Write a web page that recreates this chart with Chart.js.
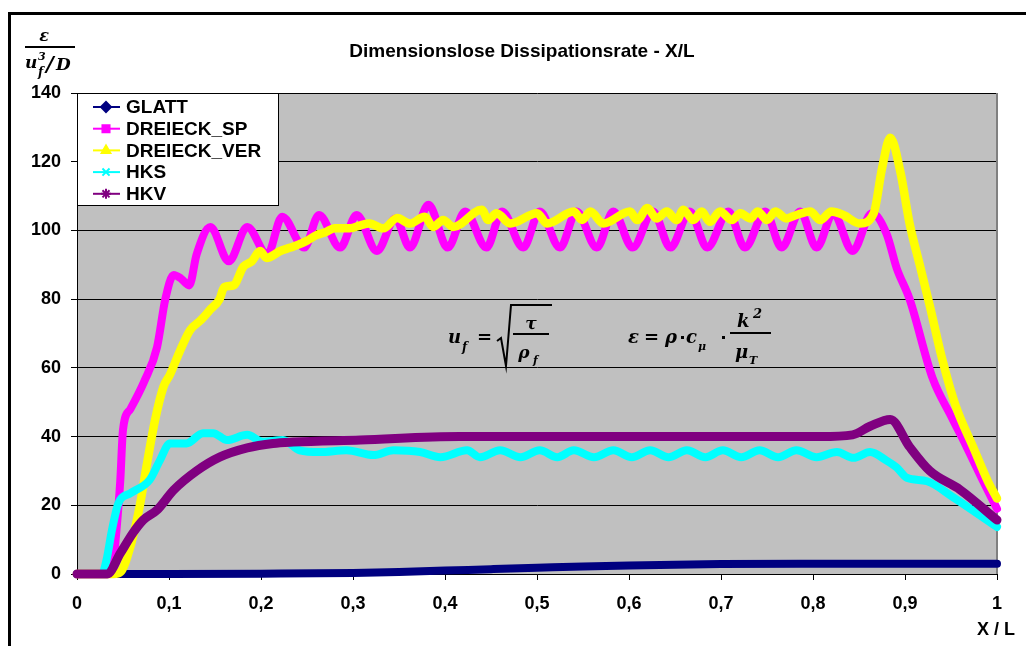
<!DOCTYPE html>
<html>
<head>
<meta charset="utf-8">
<script src="https://cdn.jsdelivr.net/npm/chart.js@4.4.0/dist/chart.umd.min.js"></script>
<style>
  body { margin: 0; background: #fff; }
  #wrap { position: relative; width: 1026px; height: 646px; }
</style>
</head>
<body>
<div id="wrap"><canvas id="dissChart" width="1026" height="646"></canvas></div>
<script>
// series (x = X/L, y = dimensionless dissipation)
var seriesNames = ['GLATT', 'DREIECK_SP', 'DREIECK_VER', 'HKS', 'HKV'];
var seriesColors = ['#000080', '#FF00FF', '#FFFF00', '#00FFFF', '#800080'];
var seriesMarkers = ['rectRot', 'rect', 'triangle', 'crossRot', 'star'];

var glattX = [0, 0.05, 0.1, 0.2, 0.3, 0.35, 0.4, 0.45, 0.5, 0.55, 0.6, 0.65, 0.7, 0.8, 0.9, 1.0];
var glattY = [0, 0, 0, 0.1, 0.3, 0.6, 1.0, 1.4, 1.8, 2.2, 2.5, 2.7, 2.9, 3.0, 3.0, 3.0];

var spX = [0, 0.03, 0.036, 0.040, 0.043, 0.047, 0.050, 0.058, 0.073, 0.087, 0.096, 0.105, 0.113, 0.122, 0.130,
  0.145, 0.165, 0.185, 0.207, 0.223, 0.247, 0.263, 0.286, 0.304, 0.326, 0.346, 0.362, 0.382, 0.403, 0.422,
  0.445, 0.462, 0.485, 0.503, 0.525, 0.543, 0.565, 0.583, 0.604, 0.626, 0.645, 0.666, 0.685, 0.708, 0.726,
  0.748, 0.766, 0.786, 0.804, 0.822, 0.843, 0.864, 0.880, 0.891, 0.905, 0.930, 0.950, 0.967, 0.985, 1.0];
var spY = [0, 0, 0.5, 5, 13, 27, 42, 48, 56, 66, 80, 87, 86, 84, 93,
  101, 91, 101, 93, 104, 95, 104.5, 95, 104.5, 94, 103.5, 95, 107.5, 95, 105.5,
  95, 105.5, 95, 105.5, 95, 105.5, 95, 105.5, 95, 105.5, 95, 105.5, 95, 105.5, 95,
  105.5, 95, 105.5, 95, 105, 94, 105, 99, 89, 80, 57, 46, 37, 27, 19];

var verX = [0, 0.040, 0.047, 0.058, 0.068, 0.076, 0.085, 0.094, 0.101, 0.112, 0.123, 0.135, 0.145, 0.155, 0.160,
  0.170, 0.181, 0.190, 0.199, 0.206, 0.221, 0.232, 0.242, 0.250, 0.260, 0.270, 0.280, 0.297, 0.308, 0.318,
  0.333, 0.348, 0.362, 0.378, 0.387, 0.398, 0.409, 0.440, 0.447, 0.456, 0.471, 0.500, 0.511, 0.540, 0.549,
  0.558, 0.572, 0.601, 0.609, 0.620, 0.630, 0.641, 0.652, 0.659, 0.670, 0.679, 0.688, 0.699, 0.712, 0.721,
  0.732, 0.740, 0.750, 0.759, 0.771, 0.782, 0.797, 0.808, 0.820, 0.833, 0.851, 0.866, 0.875, 0.884, 0.895,
  0.905, 0.916, 0.927, 0.940, 0.955, 0.974, 0.990, 1.0];
var verY = [0, 0, 0.5, 8, 19.5, 32, 45, 54.5, 58, 65, 71, 74, 77, 80, 83.5,
  84, 89.5, 91, 94, 92, 94, 95, 96, 97, 98.6, 99.5, 100.6, 100.6, 101.5, 102,
  100.6, 103.6, 102, 104, 101, 103, 101, 106, 103, 105, 102, 105, 102, 105.5, 103,
  105.5, 102, 105.5, 103, 106.5, 103.5, 105.5, 103, 106, 103, 105.5, 102.5, 105.5, 103, 105,
  103.5, 105.5, 103, 105.5, 103.5, 104.5, 105.5, 103, 105.5, 104.5, 102, 105, 118, 127, 117,
  102, 90, 78, 63, 49, 37, 27, 22];

var hksX = [0, 0.027, 0.032, 0.038, 0.045, 0.058, 0.079, 0.090, 0.101, 0.119, 0.137, 0.148, 0.163, 0.185, 0.202,
  0.224, 0.242, 0.264, 0.293, 0.322, 0.344, 0.373, 0.395, 0.424, 0.438, 0.460, 0.482, 0.503, 0.522, 0.540,
  0.562, 0.583, 0.603, 0.623, 0.643, 0.663, 0.683, 0.702, 0.722, 0.742, 0.762, 0.782, 0.804, 0.826, 0.844,
  0.862, 0.880, 0.891, 0.902, 0.924, 0.952, 1.0];
var hksY = [0, 0, 4, 12.8, 20.6, 23.5, 27.4, 33, 38, 38, 41, 41, 39, 40.5, 38.5,
  39, 36, 35.5, 36, 34.6, 36, 35.5, 34, 36, 34, 36, 34, 36, 34, 36,
  34, 36, 34, 36, 34, 36, 34, 36, 34, 36, 34, 36, 34, 35.5, 33.8,
  35.5, 33, 31, 28, 27, 22.4, 13.7];

var hkvX = [0, 0.033, 0.047, 0.061, 0.072, 0.087, 0.105, 0.13, 0.155, 0.185, 0.213, 0.235, 0.308, 0.416, 0.55,
  0.7, 0.808, 0.843, 0.862, 0.884, 0.905, 0.927, 0.96, 1.0];
var hkvY = [0, 0, 6, 12, 15.7, 18.6, 24.4, 30, 34, 36.7, 38, 38.4, 39, 40, 40,
  40, 40, 40.5, 43, 45, 37, 30, 24.5, 15.7];

var yMin = 0, yMax = 140, yStep = 20;
var xMin = 0, xMax = 1, xStep = 0.1;

function pts(xs, ys) {
  return xs.map(function (x, i) { return { x: x, y: ys[i] }; });
}

var allX = [glattX, spX, verX, hksX, hkvX];
var allY = [glattY, spY, verY, hksY, hkvY];
var widths = [8, 8, 8.5, 8, 9];

var datasets = seriesNames.map(function (name, i) {
  return {
    label: name,
    data: pts(allX[i], allY[i]),
    borderColor: seriesColors[i],
    backgroundColor: seriesColors[i],
    borderWidth: widths[i],
    borderCapStyle: 'round',
    borderJoinStyle: 'round',
    pointRadius: 0,
    cubicInterpolationMode: 'monotone',
    clip: false,
    order: seriesNames.length - i
  };
});

var BOLD = '"Liberation Sans", Arial, sans-serif';
var MATH = '"DejaVu Serif", "Liberation Serif", serif';

function mtext(c, s, x, y, size, align) {
  c.font = 'italic bold ' + size + 'px ' + MATH;
  c.textAlign = align || 'left';
  c.fillText(s, x, y);
}

var decor = {
  id: 'decor',
  beforeDraw: function (chart) {
    var c = chart.ctx, a = chart.chartArea;
    c.save();
    c.fillStyle = '#C0C0C0';
    c.fillRect(a.left, a.top, a.right - a.left, a.bottom - a.top);
    c.restore();
  },
  beforeDatasetsDraw: function (chart) {
    var c = chart.ctx, a = chart.chartArea;
    c.save();
    c.strokeStyle = '#808080';
    c.lineWidth = 2;
    c.beginPath();
    c.moveTo(a.right, a.top);
    c.lineTo(a.right, a.bottom);
    c.stroke();
    c.restore();
  },
  afterDraw: function (chart) {
    var c = chart.ctx, a = chart.chartArea;
    c.save();
    // outer frame
    c.fillStyle = '#000';
    c.fillRect(8, 12, 1018, 3);
    c.fillRect(8, 12, 3, 634);

    // title
    c.font = 'bold 19px ' + BOLD;
    c.textAlign = 'center';
    c.textBaseline = 'alphabetic';
    c.fillText('Dimensionslose Dissipationsrate - X/L', 522, 57);

    // x axis title
    c.font = 'bold 18px ' + BOLD;
    c.fillText('X / L', 996, 635);

    // y axis title: eps / (u_f^3 / D)
    c.fillStyle = '#000';
    mtext(c, '\u03b5', 44, 41, 16, 'center');
    c.fillRect(25, 46, 50, 2);
    mtext(c, 'u', 25, 68, 17);
    mtext(c, '3', 38, 60, 11);
    mtext(c, 'f', 38, 76, 12);
    mtext(c, '/', 46, 71, 21);
    mtext(c, 'D', 56, 70, 17);

    // formula u_f = sqrt(tau / rho_f)
    mtext(c, 'u', 448, 343, 18);
    mtext(c, 'f', 462, 351, 12);
    c.font = 'bold 18px ' + MATH;
    c.textAlign = 'left';
    c.fillText('=', 477, 343);
    c.strokeStyle = '#000';
    c.lineWidth = 2;
    c.beginPath();
    c.moveTo(497, 341);
    c.lineTo(501, 338);
    c.lineTo(506, 366);
    c.lineTo(511, 305);
    c.lineTo(552, 305);
    c.stroke();
    mtext(c, '\u03c4', 531, 329, 17, 'center');
    c.fillRect(513, 333, 36, 2);
    mtext(c, '\u03c1', 524, 358, 17, 'center');
    mtext(c, 'f', 533, 364, 11);

    // formula eps = rho * c_mu * k^2 / mu_T
    mtext(c, '\u03b5', 628, 343, 18);
    c.font = 'bold 18px ' + MATH;
    c.textAlign = 'left';
    c.fillText('=', 644, 343);
    mtext(c, '\u03c1', 665, 343, 18);
    c.fillRect(681, 336, 3, 3);
    mtext(c, 'c', 686, 343, 18);
    mtext(c, '\u03bc', 698, 350, 11);
    c.fillRect(722, 336, 3, 3);
    c.fillRect(730, 332, 41, 2);
    mtext(c, 'k', 737, 327, 18);
    mtext(c, '2', 753, 318, 13);
    mtext(c, '\u03bc', 735, 358, 18);
    mtext(c, 'T', 749, 364, 11);

    // legend box
    var lx = a.left, ly = a.top, lw = 201, lh = 112;
    c.fillStyle = '#fff';
    c.fillRect(lx, ly, lw, lh);
    c.strokeStyle = '#000';
    c.lineWidth = 1;
    c.strokeRect(lx + 0.5, ly + 0.5, lw, lh);
    seriesNames.forEach(function (name, i) {
      var y = ly + 14 + i * 21.7;
      c.strokeStyle = seriesColors[i];
      c.fillStyle = seriesColors[i];
      c.lineWidth = 2;
      c.beginPath();
      c.moveTo(lx + 16, y);
      c.lineTo(lx + 43, y);
      c.stroke();
      Chart.helpers.drawPoint(c, { pointStyle: seriesMarkers[i], radius: 5, borderWidth: 2, rotation: 0 }, lx + 29, y);
      c.fillStyle = '#000';
      c.font = 'bold 19px ' + BOLD;
      c.textAlign = 'left';
      c.textBaseline = 'middle';
      c.fillText(name, lx + 49, y + 1);
    });
    c.restore();
  }
};

new Chart(document.getElementById('dissChart'), {
  type: 'line',
  data: { datasets: datasets },
  options: {
    responsive: false,
    animation: false,
    layout: { padding: { left: 0, top: 93, right: 29, bottom: 0 } },
    plugins: {
      legend: { display: false },
      title: { display: false },
      tooltip: { enabled: false }
    },
    scales: {
      x: {
        type: 'linear',
        min: xMin,
        max: xMax,
        afterFit: function (s) { s.height = 72; },
        ticks: {
          stepSize: xStep,
          color: '#000',
          padding: 13,
          maxRotation: 0,
          font: { family: BOLD, size: 18, weight: 'bold' },
          callback: function (v) { return String(Math.round(v * 10) / 10).replace('.', ','); }
        },
        grid: { drawOnChartArea: false, drawTicks: true, tickLength: 6, color: '#000' },
        border: { display: true, color: '#000', width: 1 }
      },
      y: {
        min: yMin,
        max: yMax,
        afterFit: function (s) { s.width = 77; },
        ticks: {
          stepSize: yStep,
          color: '#000',
          padding: 10,
          font: { family: BOLD, size: 18, weight: 'bold' }
        },
        grid: { color: '#000', lineWidth: 1, tickLength: 6, drawTicks: true },
        border: { display: true, color: '#000', width: 1 }
      }
    }
  },
  plugins: [decor]
});
</script>
</body>
</html>
